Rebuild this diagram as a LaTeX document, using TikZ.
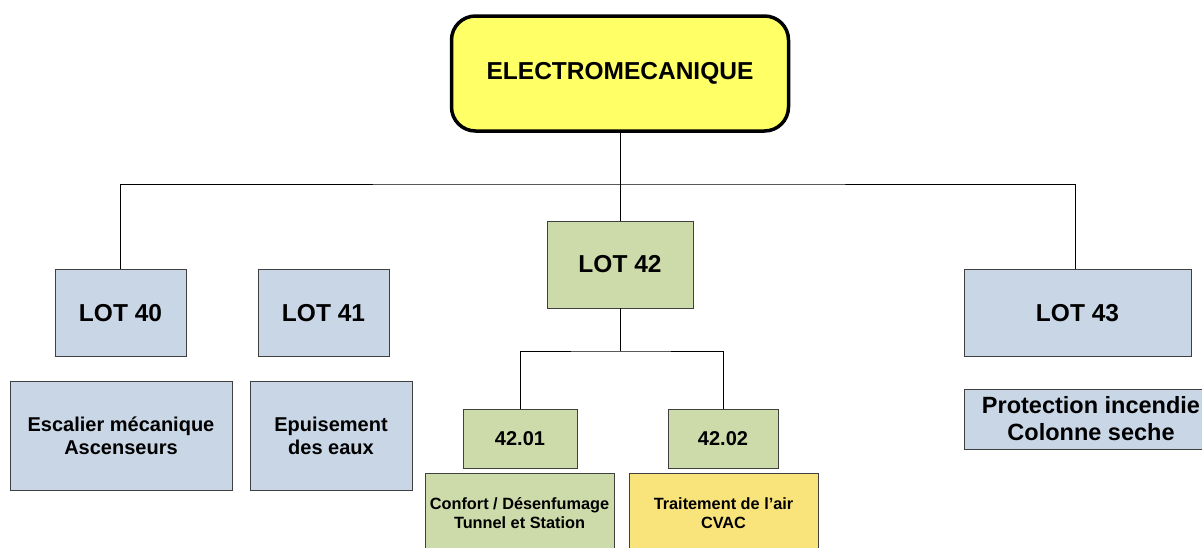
\documentclass[tikz,border=0pt]{standalone}
\usepackage{fontspec}
\setmainfont{Liberation Sans}
\definecolor{lotblue}{HTML}{C9D6E6}
\definecolor{lotgreen}{HTML}{CDDBAB}
\definecolor{rootyellow}{HTML}{FFFF66}
\definecolor{softyellow}{HTML}{F9E47C}
\definecolor{edge}{HTML}{404040}
\begin{document}
\begin{tikzpicture}[x=1pt,y=-1pt,
  box/.style={draw=edge, line width=0.9pt, fill=lotblue, align=center, inner sep=0pt, font=\bfseries\fontsize{24.5}{28}\selectfont},
  greenbox/.style={box, fill=lotgreen},
  rootbox/.style={draw=black, line width=3.5pt, fill=rootyellow, rounded corners=24pt, align=center, inner sep=0pt, font=\bfseries\fontsize{24.5}{28}\selectfont},
  mid/.style={font=\bfseries\fontsize{20}{23}\selectfont},
  small/.style={font=\bfseries\fontsize{16.3}{19}\selectfont},
  big/.style={font=\bfseries\fontsize{23.5}{27}\selectfont},
  link/.style={draw=black, line width=0.8pt}]
\useasboundingbox (0,0) rectangle (1202,547);
\clip (0,0) rectangle (1202,547);
\node[rootbox, minimum width=337pt, minimum height=115pt] (root) at (620,73.5) {ELECTROMECANIQUE};
\node[box, minimum width=131pt, minimum height=87pt] (lot40) at (120.5,313) {LOT 40};
\node[box, minimum width=131pt, minimum height=87pt] (lot41) at (323.5,313) {LOT 41};
\node[greenbox, minimum width=146pt, minimum height=87pt] (lot42) at (620,264.5) {LOT 42};
\node[box, minimum width=227pt, minimum height=87pt] (lot43) at (1077.5,313) {LOT 43};
\node[box, mid, minimum width=222pt, minimum height=109pt] (esc) at (121,435.5) {Escalier mécanique\\Ascenseurs};
\node[box, mid, minimum width=162pt, minimum height=109pt] (epu) at (331,435.5) {Epuisement\\des eaux};
\node[greenbox, mid, minimum width=114pt, minimum height=59pt] (n4201) at (520,438.5) {42.01};
\node[greenbox, mid, minimum width=110pt, minimum height=59pt] (n4202) at (723,438.5) {42.02};
\node[greenbox, small, minimum width=189pt, minimum height=80pt] (conf) at (519.5,513) {Confort / Désenfumage\\Tunnel et Station};
\node[box, small, fill=softyellow, minimum width=189pt, minimum height=80pt] (trait) at (723.5,513) {Traitement de l’air\\CVAC};
\node[box, big, minimum width=254pt, minimum height=60pt] (prot) at (1091,419) {Protection incendie\\Colonne seche};
\coordinate (bus) at (620,184);
\coordinate (bus2) at (620,351);
\draw[link] (root.south) -- (lot42.north);
\draw[link] (lot40.north) |- (bus) -| ([xshift=-2.5pt]lot43.north);
\draw[link] (lot42.south) -- (bus2);
\draw[link] (n4201.north) |- (bus2) -| (n4202.north);
\end{tikzpicture}
\end{document}
